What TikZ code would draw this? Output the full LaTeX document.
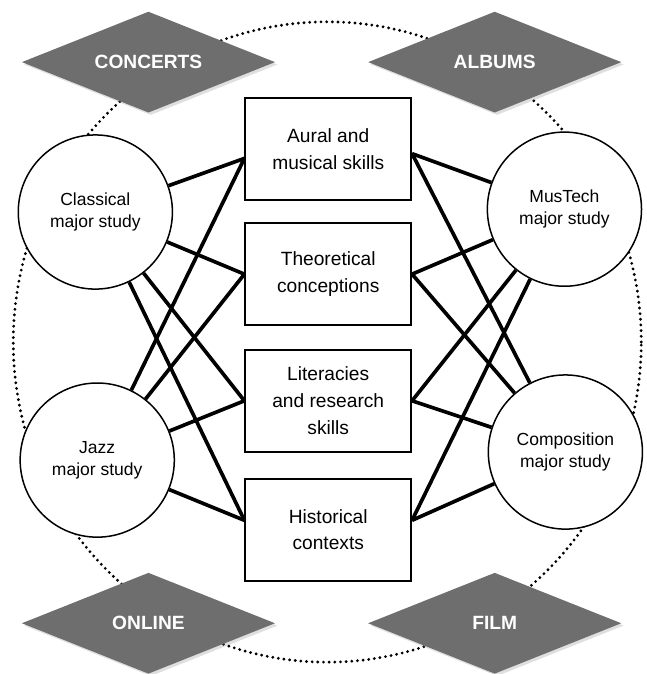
\documentclass[tikz,border=0pt]{standalone}
\usepackage{fontspec}
\setmainfont{Liberation Sans}
\usetikzlibrary{shapes.geometric,shadows}
\definecolor{tagGray}{RGB}{110,110,110}

\begin{document}
\begin{tikzpicture}[
major/.style={circle,draw,line width=0.9pt,fill=white,minimum size=3.25cm,inner sep=0pt,align=center,font=\fontsize{10.5}{13.5}\selectfont},
skill/.style={rectangle,draw,line width=1pt,fill=white,minimum width=3.5cm,minimum height=2.15cm,align=center,font=\fontsize{11.5}{16}\selectfont},
outlet/.style={diamond,fill=tagGray,aspect=2.5,minimum width=5.34cm,minimum height=2.13cm,inner sep=0pt,text=white,font=\bfseries\fontsize{11.5}{13}\selectfont,drop shadow={opacity=0.25,shadow xshift=0.05cm,shadow yshift=-0.05cm}},
link/.style={line width=2.2pt}]

\useasboundingbox (-6.90,-7.00) rectangle (6.73,7.21);
\draw[line width=1.9pt,line cap=round,dash pattern=on 0pt off 3.4pt] (0,0) ellipse [x radius=6.62, y radius=6.75];

\node[skill] (aural) at (0.02,4.07) {Aural and\\musical skills};
\node[skill] (theory) at (0.02,1.43) {Theoretical\\conceptions};
\node[skill] (literacy) at (0.02,-1.24) {Literacies\\and research\\skills};
\node[skill] (history) at (0.02,-3.96) {Historical\\contexts};

\node[major] (classical) at (-4.89,2.74) {Classical\\major study};
\node[major] (jazz) at (-4.85,-2.49) {Jazz\\major study};
\node[major] (mustech) at (5.00,2.80) {MusTech\\major study};
\node[major] (composition) at (5.02,-2.32) {Composition\\major study};

\node[outlet] (concerts) at (-3.77,5.90) {CONCERTS};
\node[outlet] (albums) at (3.53,5.90) {ALBUMS};
\node[outlet] (online) at (-3.77,-5.93) {ONLINE};
\node[outlet] (film) at (3.53,-5.93) {FILM};

\draw[link] (classical) -- ([yshift=-0.2cm]aural.west);
\draw[link] (classical) -- (theory.west);
\draw[link] (classical) -- (literacy.west);
\draw[link] (classical) -- ([yshift=0.2cm]history.west);
\draw[link] (jazz) -- ([yshift=-0.2cm]aural.west);
\draw[link] (jazz) -- (theory.west);
\draw[link] (jazz) -- (literacy.west);
\draw[link] (jazz) -- ([yshift=0.2cm]history.west);

\draw[link] (mustech) -- ([yshift=-0.1cm]aural.east);
\draw[link] (mustech) -- (theory.east);
\draw[link] (mustech) -- (literacy.east);
\draw[link] (mustech) -- ([yshift=0.2cm]history.east);
\draw[link] (composition) -- ([yshift=-0.1cm]aural.east);
\draw[link] (composition) -- (theory.east);
\draw[link] (composition) -- (literacy.east);
\draw[link] (composition) -- ([yshift=0.2cm]history.east);
\end{tikzpicture}
\end{document}
